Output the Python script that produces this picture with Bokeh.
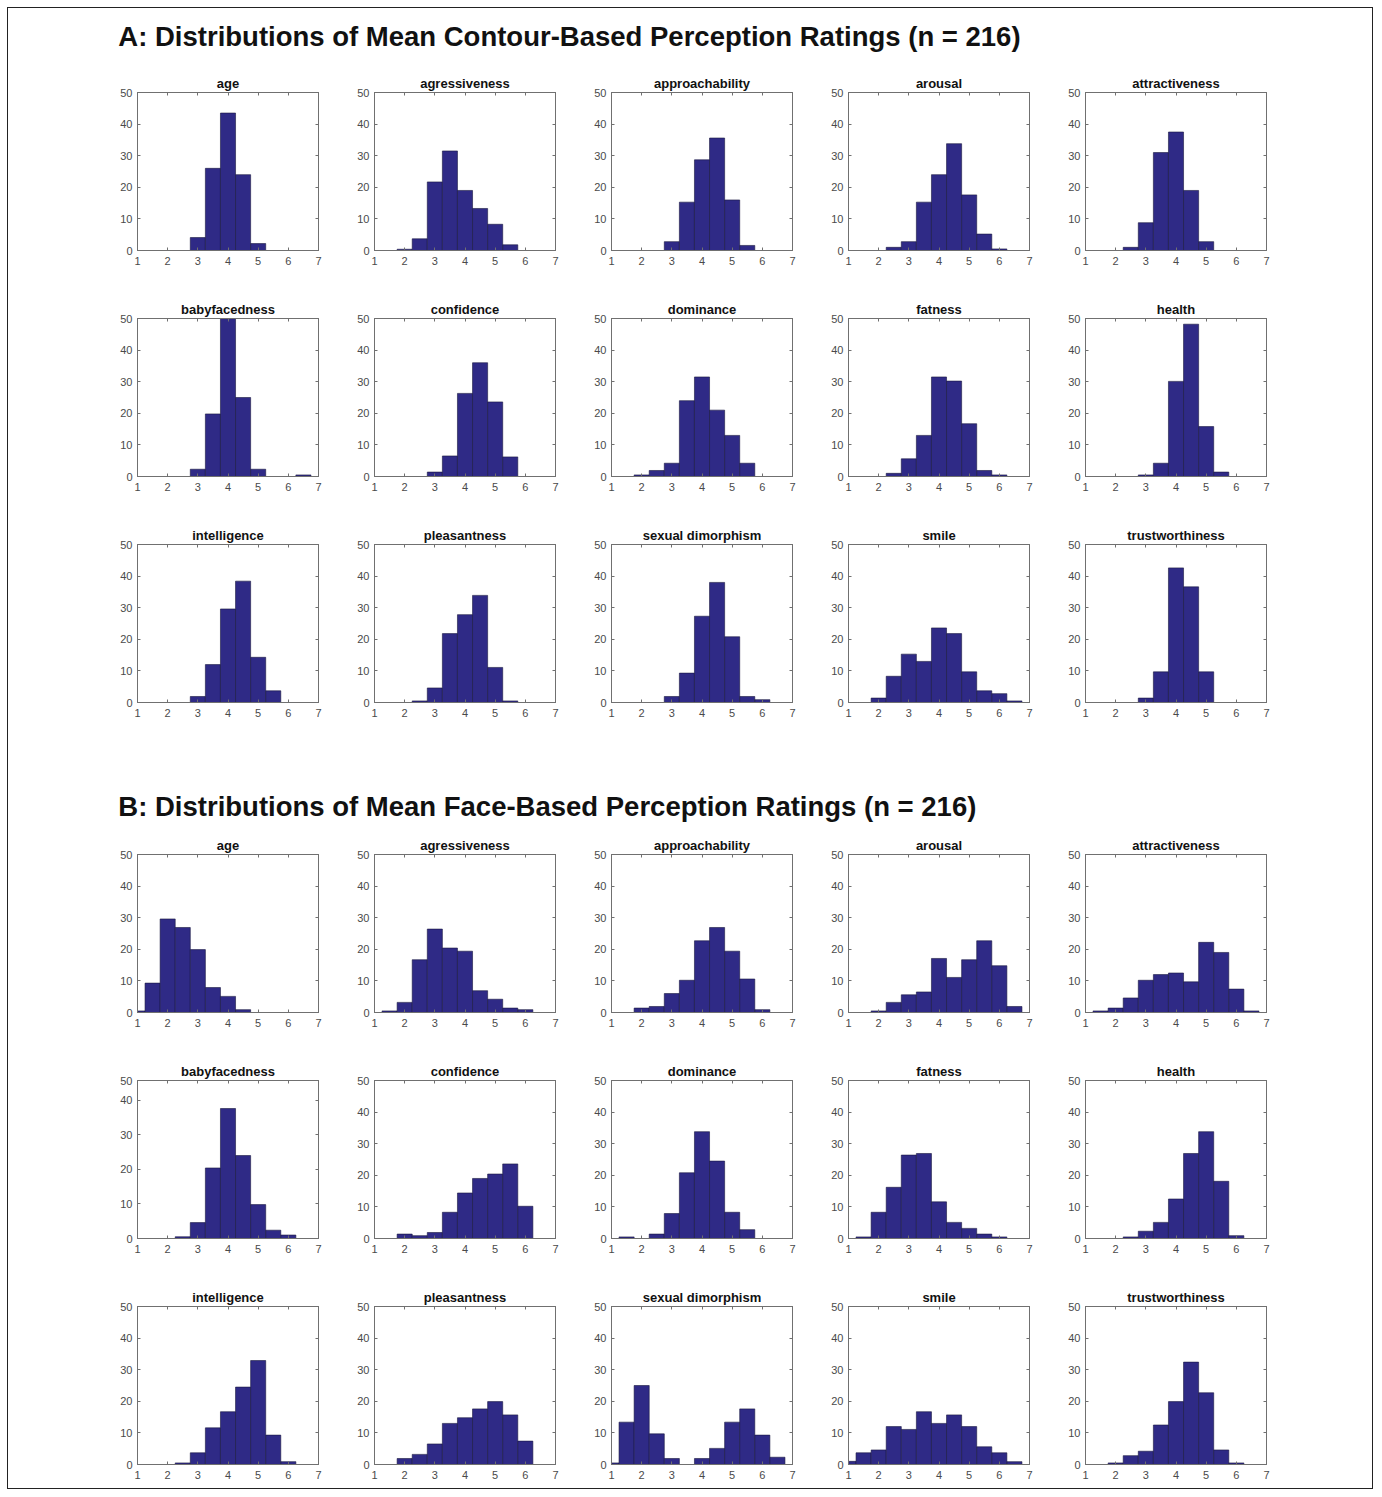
from bokeh.plotting import figure
from bokeh.layouts import column, row
from bokeh.models import Spacer, LinearAxis, FixedTicker, Range1d, ColumnDataSource
from bokeh.embed import file_html
from bokeh.resources import INLINE
from bokeh.core.properties import value

# ---------------- data (percent of faces per rating bin, bin width 0.5) ----------------
bin_centers = [1.0, 1.5, 2.0, 2.5, 3.0, 3.5, 4.0, 4.5, 5.0, 5.5, 6.0, 6.5, 7.0]
traits = ["age", "agressiveness", "approachability", "arousal", "attractiveness",
          "babyfacedness", "confidence", "dominance", "fatness", "health",
          "intelligence", "pleasantness", "sexual dimorphism", "smile", "trustworthiness"]
x_ticks = [1, 2, 3, 4, 5, 6, 7]
y_ticks = [0, 10, 20, 30, 40, 50]

title_a = "A: Distributions of Mean Contour-Based Perception Ratings (n = 216)"
title_b = "B: Distributions of Mean Face-Based Perception Ratings (n = 216)"

# Section A: contour-based
a_age = [0, 0, 0, 0, 4.1, 26, 43.5, 24, 2.2, 0, 0, 0, 0]
a_agressiveness = [0, 0, 0.4, 3.7, 21.7, 31.5, 19, 13.3, 8.3, 1.8, 0, 0, 0]
a_approachability = [0, 0, 0, 0, 2.8, 15.3, 28.7, 35.6, 16, 1.6, 0, 0, 0]
a_arousal = [0, 0, 0, 1, 2.8, 15.3, 24, 33.8, 17.6, 5.2, 0.5, 0, 0]
a_attractiveness = [0, 0, 0, 1, 8.8, 31, 37.5, 19, 2.8, 0, 0, 0, 0]
a_babyfacedness = [0, 0, 0, 0, 2.3, 19.8, 50, 25, 2.3, 0, 0, 0.5, 0]
a_confidence = [0, 0, 0, 0, 1.4, 6.5, 26.3, 36, 23.6, 6.2, 0, 0, 0]
a_dominance = [0, 0, 0.5, 1.9, 4.2, 24, 31.5, 21, 13, 4.2, 0, 0, 0]
a_fatness = [0, 0, 0, 1, 5.6, 13, 31.5, 30.2, 16.7, 1.9, 0.5, 0, 0]
a_health = [0, 0, 0, 0, 0.5, 4.2, 30.1, 48.2, 15.8, 1.4, 0, 0, 0]
a_intelligence = [0, 0, 0, 0, 1.9, 12, 29.6, 38.4, 14.3, 3.7, 0, 0, 0]
a_pleasantness = [0, 0, 0, 0.5, 4.6, 21.8, 27.8, 33.9, 11.1, 0.5, 0, 0, 0]
a_sexual_dimorphism = [0, 0, 0, 0, 1.9, 9.3, 27.3, 38, 20.8, 1.9, 0.9, 0, 0]
a_smile = [0, 0, 1.4, 8.3, 15.3, 13, 23.6, 21.8, 9.7, 3.7, 2.8, 0.5, 0]
a_trustworthiness = [0, 0, 0, 0, 1.4, 9.7, 42.6, 36.6, 9.7, 0, 0, 0, 0]

# Section B: face-based
b_age = [0.5, 9.3, 29.6, 26.9, 19.9, 7.9, 5.1, 0.9, 0, 0, 0, 0, 0]
b_agressiveness = [0, 0.5, 3.2, 16.7, 26.4, 20.4, 19.4, 6.9, 4.2, 1.4, 0.9, 0, 0]
b_approachability = [0, 0, 1.4, 1.9, 6, 10.2, 22.7, 26.9, 19.4, 10.6, 0.9, 0, 0]
b_arousal = [0, 0, 0.5, 3.2, 5.6, 6.5, 17.1, 11.1, 16.7, 22.7, 14.8, 1.9, 0]
b_attractiveness = [0, 0.5, 1.4, 4.6, 10.2, 12, 12.5, 9.7, 22.2, 19, 7.4, 0.5, 0]
b_babyfacedness = [0, 0, 0, 0.5, 4.6, 20.4, 37.6, 24, 9.8, 2.4, 1, 0, 0]
b_confidence = [0, 0, 1.4, 0.9, 1.9, 8.3, 14.4, 19, 20.4, 23.6, 10.2, 0, 0]
b_dominance = [0, 0.5, 0, 1.4, 7.9, 20.8, 33.8, 24.5, 8.3, 2.8, 0, 0, 0]
b_fatness = [0, 0.5, 8.3, 16.2, 26.4, 26.9, 11.6, 5.1, 3.2, 1.4, 0.5, 0, 0]
b_health = [0, 0, 0, 0.5, 2.3, 5.1, 12.5, 26.9, 33.8, 18.1, 0.9, 0, 0]
b_intelligence = [0, 0, 0, 0.5, 3.7, 11.6, 16.7, 24.5, 32.9, 9.3, 0.9, 0, 0]
b_pleasantness = [0, 0, 1.9, 3.2, 6.5, 13, 14.8, 17.6, 19.9, 15.7, 7.4, 0, 0]
b_sexual_dimorphism = [0.5, 13.4, 25, 9.7, 1.9, 0, 1.9, 5.1, 13.4, 17.6, 9.3, 2.3, 0]
b_smile = [1, 3.7, 4.6, 12, 11.1, 16.7, 13, 15.7, 12, 5.6, 3.7, 0.9, 0]
b_trustworthiness = [0, 0, 0.5, 2.8, 4.2, 12.5, 19.9, 32.4, 22.7, 4.6, 0.5, 0, 0]

# the B babyfacedness panel's y-axis tops out a bit below 50 (its top label still reads "50")
b_babyfacedness_ymax = 45.7

a_series = [a_age, a_agressiveness, a_approachability, a_arousal, a_attractiveness,
            a_babyfacedness, a_confidence, a_dominance, a_fatness, a_health,
            a_intelligence, a_pleasantness, a_sexual_dimorphism, a_smile, a_trustworthiness]
b_series = [b_age, b_agressiveness, b_approachability, b_arousal, b_attractiveness,
            b_babyfacedness, b_confidence, b_dominance, b_fatness, b_health,
            b_intelligence, b_pleasantness, b_sexual_dimorphism, b_smile, b_trustworthiness]

# ---------------- styling ----------------
FONT = "Liberation Sans"
BAR_FILL = "#2f2a86"
BAR_EDGE = "#1a1840"
AX_COL = "#707070"
LBL_COL = "#4a4a4a"
PAGE_W = 1366
CELL_W = 237
FRAME_W = 181
FRAME_H = 158
BORDER_L = 37
BORDER_T = 20
BIN_W = 0.5


def make_panel(name, counts, ymax=50, bottom=48):
    p = figure(width=CELL_W, height=BORDER_T + FRAME_H + bottom,
               x_range=Range1d(1, 7), y_range=Range1d(0, ymax),
               toolbar_location=None, output_backend="svg",
               min_border_left=BORDER_L, min_border_right=CELL_W - BORDER_L - FRAME_W,
               min_border_top=BORDER_T, min_border_bottom=bottom,
               title=name)
    p.title.align = "center"
    p.title.text_font = FONT
    p.title.text_font_size = "13px"
    p.title.text_font_style = "bold"
    p.title.text_color = "#111111"
    p.title.standoff = 3

    xs = [c for c, v in zip(bin_centers, counts) if v > 0]
    vs = [v for v in counts if v > 0]
    src = ColumnDataSource(dict(left=[c - BIN_W / 2 for c in xs],
                                right=[c + BIN_W / 2 for c in xs],
                                top=vs, bottom=[0] * len(vs)))
    p.quad(left="left", right="right", top="top", bottom="bottom", source=src,
           fill_color=BAR_FILL, line_color=BAR_EDGE, line_width=0.6)

    yt = list(y_ticks)
    overrides = {}
    if ymax != 50:
        yt = [t for t in y_ticks if t < ymax] + [ymax]
        overrides = {ymax: "50"}

    p.xgrid.visible = False
    p.ygrid.visible = False
    p.outline_line_color = AX_COL
    p.outline_line_width = 1

    for ax, ticks in ((p.xaxis[0], x_ticks), (p.yaxis[0], yt)):
        ax.ticker = FixedTicker(ticks=ticks)
        ax.minor_tick_line_color = None
        ax.major_tick_in = 3
        ax.major_tick_out = 0
        ax.major_tick_line_color = AX_COL
        ax.axis_line_color = AX_COL
        ax.major_label_text_font = FONT
        ax.major_label_text_font_size = "11px"
        ax.major_label_text_color = LBL_COL
    p.yaxis[0].major_label_overrides = overrides
    p.xaxis[0].major_label_standoff = 6
    p.yaxis[0].major_label_standoff = 5

    # MATLAB-style box: inward ticks on top and right edges too (no labels drawn)
    top_ax = LinearAxis(ticker=FixedTicker(ticks=x_ticks), major_tick_in=3, major_tick_out=0,
                        minor_tick_line_color=None, major_label_text_font_size="0px",
                        major_label_text_color=None,
                        major_label_standoff=0, axis_line_color=AX_COL,
                        major_tick_line_color=AX_COL)
    right_ax = LinearAxis(ticker=FixedTicker(ticks=yt), major_tick_in=3, major_tick_out=0,
                          minor_tick_line_color=None, major_label_text_font_size="0px",
                          major_label_text_color=None,
                          major_label_standoff=0, axis_line_color=AX_COL,
                          major_tick_line_color=AX_COL)
    p.add_layout(top_ax, "above")
    p.add_layout(right_ax, "right")
    return p


def make_title(text, h, ypos):
    t = figure(width=PAGE_W, height=h, x_range=Range1d(0, PAGE_W), y_range=Range1d(0, h),
               toolbar_location=None, output_backend="svg", x_axis_type=None, y_axis_type=None,
               min_border=0)
    t.outline_line_color = None
    t.xgrid.visible = False
    t.ygrid.visible = False
    t.text(x=[110], y=[ypos], text=[text], text_font=value(FONT), text_font_style="bold",
           text_font_size="27.5px", text_baseline="middle", text_align="left", text_color="#111111")
    return t


def section_rows(series, last_bottom=48, special=None):
    rows = []
    for r in range(3):
        figs = [Spacer(width=92, height=10)]
        for c in range(5):
            i = r * 5 + c
            ymax = special.get(i, 50) if special else 50
            bottom = last_bottom if r == 2 else 48
            figs.append(make_panel(traits[i], series[i], ymax=ymax, bottom=bottom))
        rows.append(row(*figs, spacing=0))
    return rows


layout_children = [make_title(title_a, 64, 36)]
layout_children += section_rows(a_series)
layout_children.append(make_title(title_b, 84, 28))
layout_children += section_rows(b_series, last_bottom=24, special={5: b_babyfacedness_ymax})

page = column(*layout_children, spacing=0, width=PAGE_W,
              styles={"border": "1px solid #222222", "box-sizing": "border-box",
                      "margin": "7px 0px 0px 7px"})

open("out.html", "w").write(file_html(page, INLINE, title="Perception rating distributions"))
